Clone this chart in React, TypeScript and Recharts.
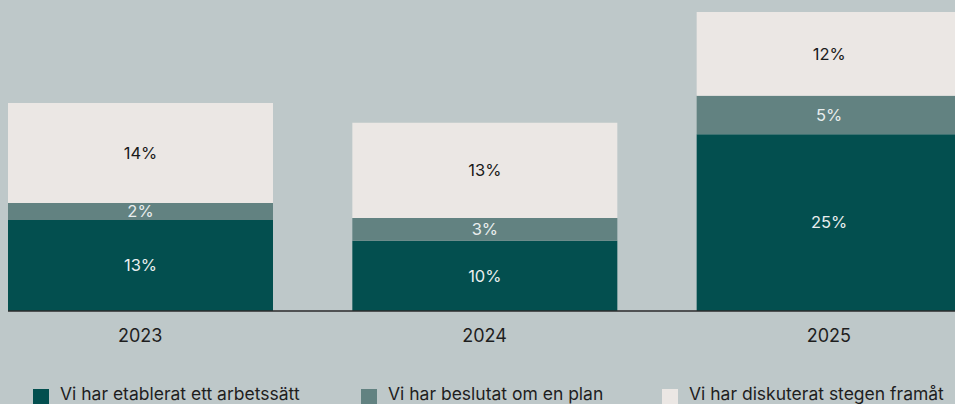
import { BarChart, Bar, XAxis, YAxis, LabelList } from "recharts";

// labels are rounded to whole percent
const years = ["2023", "2024", "2025"];
const etablerat = [12.8, 9.9, 24.9];
const beslutat = [2.4, 3.2, 5.4];
const diskuterat = [14.1, 13.4, 11.8];

const seriesNames = [
  "Vi har etablerat ett arbetssätt",
  "Vi har beslutat om en plan",
  "Vi har diskuterat stegen framåt",
];

const DARK = "#034f4f";
const MID = "#628281";
const LIGHT = "#ebe7e4";
const BG = "#bec8c9";
const FONT = "Inter, 'Liberation Sans', Arial, sans-serif";

const data = years.map((year, i) => ({
  year,
  etablerat: etablerat[i],
  beslutat: beslutat[i],
  diskuterat: diskuterat[i],
}));

const pct = (v: any) => `${Math.round(Number(v))}%`;

export default function App() {
  const legendItems = [
    { name: seriesNames[0], color: DARK, left: 33 },
    { name: seriesNames[1], color: MID, left: 361 },
    { name: seriesNames[2], color: LIGHT, left: 662 },
  ];

  return (
    <div
      style={{
        position: "fixed",
        inset: 0,
        width: 955,
        height: 404,
        background: BG,
        overflow: "hidden",
        fontFamily: FONT,
      }}
    >
      <BarChart
        width={955}
        height={404}
        data={data}
        margin={{ top: 12, right: 0, bottom: 0, left: 8 }}
        barSize={265}
      >
        <XAxis
          dataKey="year"
          height={93}
          padding={{ left: -40, right: -46 }}
          axisLine={{ stroke: "#2b2b2b", strokeWidth: 1.5 }}
          tickLine={false}
          tickMargin={12}
          tick={{ fill: "#1e1e1e", fontSize: 18, fontFamily: FONT }}
        />
        <YAxis hide domain={[0, 42.1]} />
        <Bar dataKey="etablerat" stackId="a" fill={DARK} isAnimationActive={false}>
          <LabelList
            dataKey="etablerat"
            position="center"
            formatter={pct}
            style={{ fill: "#e9eeee", fontSize: 16.5, fontFamily: FONT }}
          />
        </Bar>
        <Bar dataKey="beslutat" stackId="a" fill={MID} isAnimationActive={false}>
          <LabelList
            dataKey="beslutat"
            position="center"
            formatter={pct}
            style={{ fill: "#e9eeee", fontSize: 16.5, fontFamily: FONT }}
          />
        </Bar>
        <Bar dataKey="diskuterat" stackId="a" fill={LIGHT} isAnimationActive={false}>
          <LabelList
            dataKey="diskuterat"
            position="center"
            formatter={pct}
            style={{ fill: "#1a1a1a", fontSize: 16.5, fontFamily: FONT }}
          />
        </Bar>
      </BarChart>

      {legendItems.map((item) => (
        <div key={item.name}>
          <span
            style={{
              position: "absolute",
              left: item.left,
              top: 389,
              width: 16,
              height: 16,
              background: item.color,
            }}
          />
          <span
            style={{
              position: "absolute",
              left: item.left + 27,
              top: 383,
              fontSize: 17.5,
              lineHeight: "21px",
              color: "#1e1e1e",
              whiteSpace: "nowrap",
            }}
          >
            {item.name}
          </span>
        </div>
      ))}
    </div>
  );
}
